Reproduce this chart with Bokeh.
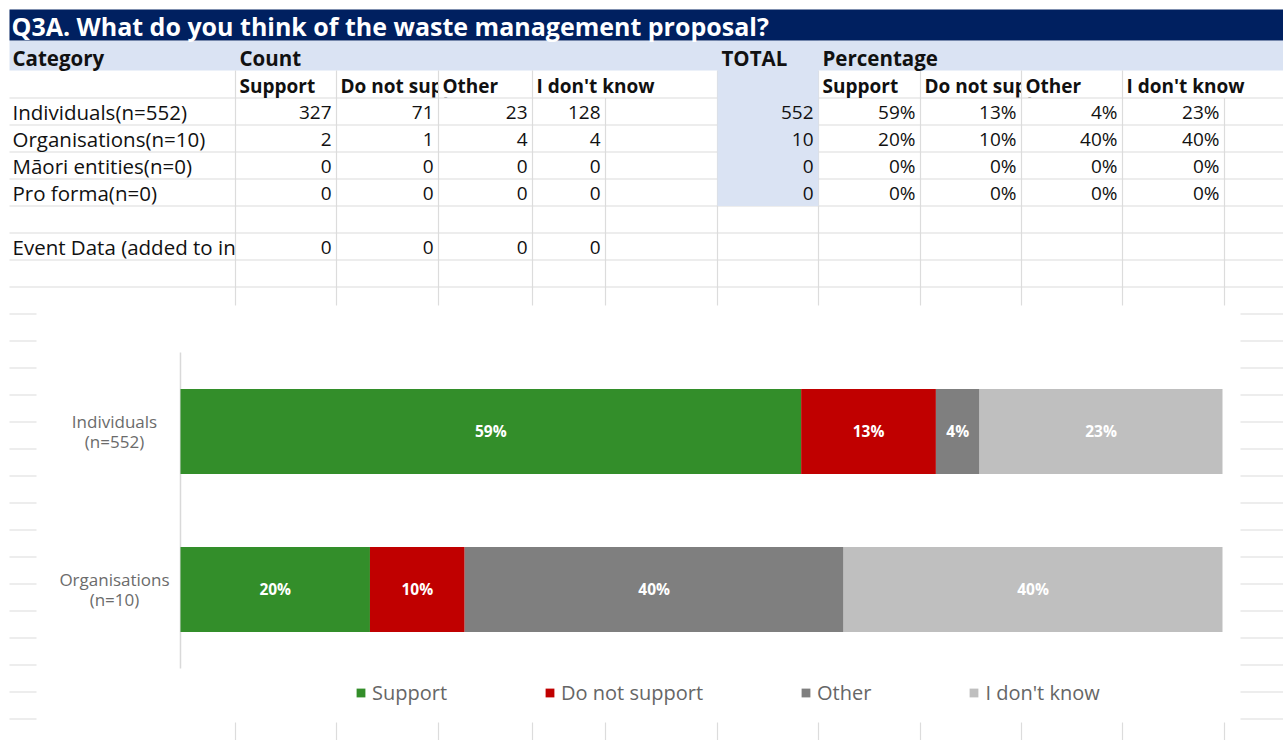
from bokeh.plotting import figure
from bokeh.models import Range1d, ColumnDataSource, Legend, LegendItem
from bokeh.core.properties import value
from bokeh.embed import file_html
from bokeh.resources import INLINE

# ---------------- data ----------------
title = "Q3A. What do you think of the waste management proposal?"
header_labels = ["Category", "Count", "TOTAL", "Percentage"]
categories = ["Individuals", "Organisations", "Māori entities", "Pro forma"]
n_values = [552, 10, 0, 0]
response_labels = ["Support", "Do not support", "Other", "I don't know"]
support = [327, 2, 0, 0]
do_not_support = [71, 1, 0, 0]
other = [23, 4, 0, 0]
dont_know = [128, 4, 0, 0]
event_label = "Event Data (added to individuals)"
event_counts = [0, 0, 0, 0]
colors = ["#338E2A", "#C00000", "#7F7F7F", "#BFBFBF"]

series = [support, do_not_support, other, dont_know]

def pct_text(c, n):
    return f"{round(100 * c / n)}%" if n else "0%"

# ---------------- layout constants ----------------
W, H = 1283, 740
cols = [9, 235, 336, 438, 532, 605, 717, 818, 920, 1021, 1122, 1224, 1283]
TITLE_TOP, TITLE_BOT = 9, 40
HDR_BOT = 70
ROW0 = 97.5
RH = 27
GRID = "#DCDCDC"
BLUE = "#DAE3F3"
NAVY = "#002060"
TFONT = "Open Sans"
TSIZE = "19px"

p = figure(width=W, height=H, x_range=Range1d(0, W), y_range=Range1d(H, 0),
           output_backend="svg", toolbar_location=None, min_border=0,
           x_axis_type=None, y_axis_type=None, outline_line_color=None,
           background_fill_color="white", border_fill_color="white")
p.grid.visible = False


def txt(xs, ys, texts, align="left", bold=False, color="#111111", size=TSIZE, font=TFONT, **kw):
    p.text(x=xs, y=ys, text=texts, text_align=align, text_baseline="middle",
           text_font=value(font), text_font_size=size,
           text_font_style="bold" if bold else "normal", text_color=color, **kw)


def row_mid(i):
    return ROW0 + RH * i + RH / 2 + 0.5

# header band
p.quad(left=[cols[0]], right=[W], top=[TITLE_BOT], bottom=[HDR_BOT], fill_color=BLUE, line_color=None)

# overflowing texts (clipped by the next cell)
dns_idx = response_labels.index("Do not support")
txt([cols[1 + dns_idx] + 4, cols[7 + dns_idx] + 4], [85, 85], [response_labels[dns_idx]] * 2, bold=True)
txt([12], [row_mid(5)], [event_label], size="20.5px")
p.quad(left=[cols[2 + dns_idx], cols[8 + dns_idx], cols[1]],
       right=[cols[3 + dns_idx], cols[9 + dns_idx], cols[2]],
       top=[HDR_BOT + 0.5, HDR_BOT + 0.5, ROW0 + RH * 5 + 0.5],
       bottom=[ROW0 - 0.5, ROW0 - 0.5, ROW0 + RH * 6 - 0.5],
       fill_color="white", line_color=None)

# gridlines
hy = []
y = ROW0
while y < H:
    hy.append(y)
    y += RH
p.segment(x0=[cols[0]] * len(hy), y0=hy, x1=[W] * len(hy), y1=hy, line_color=GRID, line_width=1.2)
vx = cols[1:-1]
vy0 = [ROW0 if x in (605, 1224) else HDR_BOT for x in vx]
p.segment(x0=vx, y0=vy0, x1=vx, y1=[H] * len(vx), line_color=GRID, line_width=1.2)

# TOTAL column band and title band
p.quad(left=[cols[6]], right=[cols[7]], top=[TITLE_BOT], bottom=[ROW0 + RH * 4], fill_color=BLUE, line_color=None)
p.quad(left=[cols[0]], right=[W], top=[TITLE_TOP], bottom=[TITLE_BOT], fill_color=NAVY, line_color=None)

# title + headers
txt([11], [25], [title], bold=True, color="white", size="25px")
txt([12, cols[1] + 4, cols[6] + 4, cols[7] + 4], [57] * 4, header_labels, bold=True, size="20.5px")
sub_x, sub_t = [], []
for j, lab in enumerate(response_labels):
    if j == dns_idx:
        continue
    sub_x += [cols[1 + j] + 4, cols[7 + j] + 4]
    sub_t += [lab, lab]
txt(sub_x, [85] * len(sub_x), sub_t, bold=True)

# table body
lx, ly, lt = [], [], []
nx, ny, nt = [], [], []
for i, cat in enumerate(categories):
    lx.append(12); ly.append(row_mid(i)); lt.append(f"{cat}(n={n_values[i]})")
    for j, s in enumerate(series):
        nx.append(cols[2 + j] - 5); ny.append(row_mid(i)); nt.append(str(s[i]))
        nx.append(cols[8 + j] - 5); ny.append(row_mid(i)); nt.append(pct_text(s[i], n_values[i]))
    nx.append(cols[7] - 5); ny.append(row_mid(i)); nt.append(str(n_values[i]))
for j, c in enumerate(event_counts):
    nx.append(cols[2 + j] - 5); ny.append(row_mid(5)); nt.append(str(c))
txt(lx, ly, lt, size="20.5px")
txt(nx, ny, nt, align="right")

# ---------------- chart ----------------
p.quad(left=[36], right=[1240], top=[305], bottom=[722], fill_color="white", line_color=None)

p.extra_x_ranges = {"pct": Range1d(-0.17274, 1.05854)}
p.extra_y_ranges = {"cat": Range1d(1.9557, -2.7278)}

chart_rows = [i for i, n in enumerate(n_values) if n > 0]
keys = ["s", "d", "o", "k"]
data = {"y": list(range(len(chart_rows)))}
for k, s in zip(keys, series):
    data[k] = [s[i] / sum(ser[i] for ser in series) for i in chart_rows]
src = ColumnDataSource(data)

p.segment(x0=[0], y0=[-0.5], x1=[0], y1=[len(chart_rows) - 0.5], line_color="#D9D9D9",
          line_width=1.5, x_range_name="pct", y_range_name="cat")

rends = p.hbar_stack(keys, y="y", height=0.538, fill_color=colors, line_color=None,
                     source=src, x_range_name="pct", y_range_name="cat")

bx, by, bt = [], [], []
for r, i in enumerate(chart_rows):
    left = 0.0
    for k, s in zip(keys, series):
        f = data[k][r]
        if f > 0:
            bx.append(left + f / 2); by.append(r); bt.append(pct_text(s[i], n_values[i]))
        left += f
p.text(x=bx, y=by, text=bt, text_align="center", text_baseline="middle",
       text_font=value("Open Sans"), text_font_size="15.5px", text_font_style="bold",
       text_color="white", x_range_name="pct", y_range_name="cat")

p.text(x=[0] * len(chart_rows), y=list(range(len(chart_rows))),
       text=[f"{categories[i]}\n(n={n_values[i]})" for i in chart_rows],
       x_offset=-66, text_align="center", text_baseline="middle",
       text_font=value("Open Sans"), text_font_size="17px", text_color="#6B6B6B",
       text_line_height=0.87, x_range_name="pct", y_range_name="cat")

legend = Legend(items=[LegendItem(label=lab, renderers=[r]) for lab, r in zip(response_labels, rends)],
                orientation="horizontal", location=(355, 34), glyph_width=11, glyph_height=11,
                label_standoff=6, spacing=97, padding=0, margin=0, border_line_color=None,
                background_fill_alpha=0, label_text_font="Open Sans", label_text_font_size="20px",
                label_text_color="#666666")
p.add_layout(legend, "center")

open("out.html", "w").write(file_html(p, INLINE))
